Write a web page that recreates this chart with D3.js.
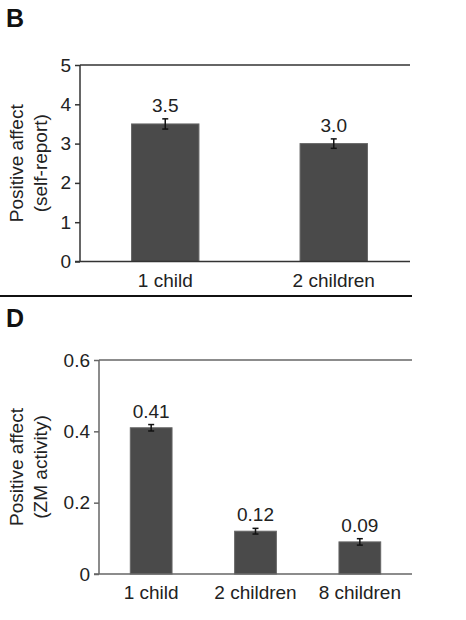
<!DOCTYPE html>
<html>
<head>
<meta charset="utf-8">
<script src="https://cdn.jsdelivr.net/npm/d3@7"></script>
<style>
  body { margin: 0; background: #fff; }
  svg { display: block; font-family: "Liberation Sans", Arial, sans-serif; }
</style>
</head>
<body>
<svg id="chart" width="466" height="620"></svg>
<script>
// panel B: self-report
const catsB = ["1 child", "2 children"];
const valsB = [3.5, 3.0];
const errB = [0.13, 0.12];
const labelsB = ["3.5", "3.0"];
const ticksB = [0, 1, 2, 3, 4, 5];

// panel D: ZM activity
const catsD = ["1 child", "2 children", "8 children"];
const valsD = [0.41, 0.12, 0.09];
const errD = [0.009, 0.008, 0.009];
const labelsD = ["0.41", "0.12", "0.09"];
const ticksD = [0, 0.2, 0.4, 0.6];

const svg = d3.select("#chart");
const fs = "19px";

function panel(opt) {
    let g = svg.append("g");
    let y = d3.scaleLinear().domain(opt.ydom).range([opt.bottom, opt.top]);
    let x = d3.scaleBand().domain(opt.cats).range(opt.xr).paddingInner(0.6).paddingOuter(0.3);

    // top frame line
    g.append("line")
     .attr("x1", opt.left).attr("x2", opt.right)
     .attr("y1", opt.top).attr("y2", opt.top)
     .attr("stroke", opt.axisColor).attr("stroke-width", 1.5);

    // y axis
    let yAxis = d3.axisLeft(y).tickValues(opt.ticks).tickSize(5).tickPadding(4)
                  .tickFormat(opt.fmt);
    let ya = g.append("g").attr("transform", `translate(${opt.left},0)`).call(yAxis);
    ya.select(".domain").remove();
    ya.selectAll(".tick line").attr("stroke", opt.axisColor).attr("stroke-width", 1.5);
    ya.selectAll(".tick text").attr("fill", "#222").style("font-size", fs);
    g.append("line")
     .attr("x1", opt.left).attr("x2", opt.left)
     .attr("y1", opt.top).attr("y2", opt.bottom)
     .attr("stroke", opt.axisColor).attr("stroke-width", 1.5);

    // bars
    g.selectAll("rect.bar").data(opt.vals).enter().append("rect")
     .attr("class", "bar")
     .attr("x", (d, i) => x(opt.cats[i]))
     .attr("width", x.bandwidth())
     .attr("y", d => y(d))
     .attr("height", d => y(0) - y(d))
     .attr("fill", "#4a4a4a")
     .attr("stroke", "#666").attr("stroke-width", 1);

    // baseline
    g.append("line")
     .attr("x1", opt.left - 5).attr("x2", opt.right)
     .attr("y1", opt.bottom).attr("y2", opt.bottom)
     .attr("stroke", opt.axisColor).attr("stroke-width", 1.5);

    // error bars
    opt.vals.forEach((v, i) => {
        let cx = x(opt.cats[i]) + x.bandwidth() / 2;
        let e = opt.err[i];
        let eg = g.append("g").attr("stroke", "#111").attr("stroke-width", 1.5);
        eg.append("line").attr("x1", cx).attr("x2", cx).attr("y1", y(v + e)).attr("y2", y(v - e));
        eg.append("line").attr("x1", cx - 3).attr("x2", cx + 3).attr("y1", y(v + e)).attr("y2", y(v + e));
        eg.append("line").attr("x1", cx - 3).attr("x2", cx + 3).attr("y1", y(v - e)).attr("y2", y(v - e));
        g.append("text")
         .attr("x", cx).attr("y", y(v + e) - 7)
         .attr("text-anchor", "middle")
         .attr("fill", "#222").style("font-size", fs)
         .text(opt.labels[i]);
    });

    // x category labels
    g.selectAll("text.cat").data(opt.cats).enter().append("text")
     .attr("class", "cat")
     .attr("x", d => x(d) + x.bandwidth() / 2)
     .attr("y", opt.bottom + 25)
     .attr("text-anchor", "middle")
     .attr("fill", "#222").style("font-size", fs)
     .text(d => d);

    // y title, two lines
    let cy = (opt.top + opt.bottom) / 2 + opt.titleShift;
    opt.ytitle.forEach((t, i) => {
        g.append("text")
         .attr("transform", `translate(${23 + i * 24},${cy}) rotate(-90)`)
         .attr("text-anchor", "middle")
         .attr("fill", "#222").style("font-size", fs)
         .text(t);
    });

    // panel letter
    g.append("text")
     .attr("x", 6).attr("y", opt.letterY)
     .attr("fill", "#111").style("font-size", "25px").style("font-weight", "bold")
     .text(opt.letter);
}

panel({
    letter: "B", letterY: 27,
    cats: catsB, vals: valsB, err: errB, labels: labelsB, ticks: ticksB,
    ydom: [0, 5], top: 65, bottom: 261.5, left: 80, right: 410, xr: [81, 418],
    fmt: d3.format("d"), axisColor: "#333",
    ytitle: ["Positive affect", "(self-report)"], titleShift: 0
});

// separator between panels
svg.append("line")
   .attr("x1", 0).attr("x2", 412).attr("y1", 296).attr("y2", 296)
   .attr("stroke", "#111").attr("stroke-width", 2);

panel({
    letter: "D", letterY: 327,
    cats: catsD, vals: valsD, err: errD, labels: labelsD, ticks: ticksD,
    ydom: [0, 0.6], top: 360, bottom: 574, left: 99, right: 412, xr: [99, 412],
    fmt: d => d === 0 ? "0" : d3.format(".1f")(d), axisColor: "#666",
    ytitle: ["Positive affect", "(ZM activity)"], titleShift: 0
});
</script>
</body>
</html>
